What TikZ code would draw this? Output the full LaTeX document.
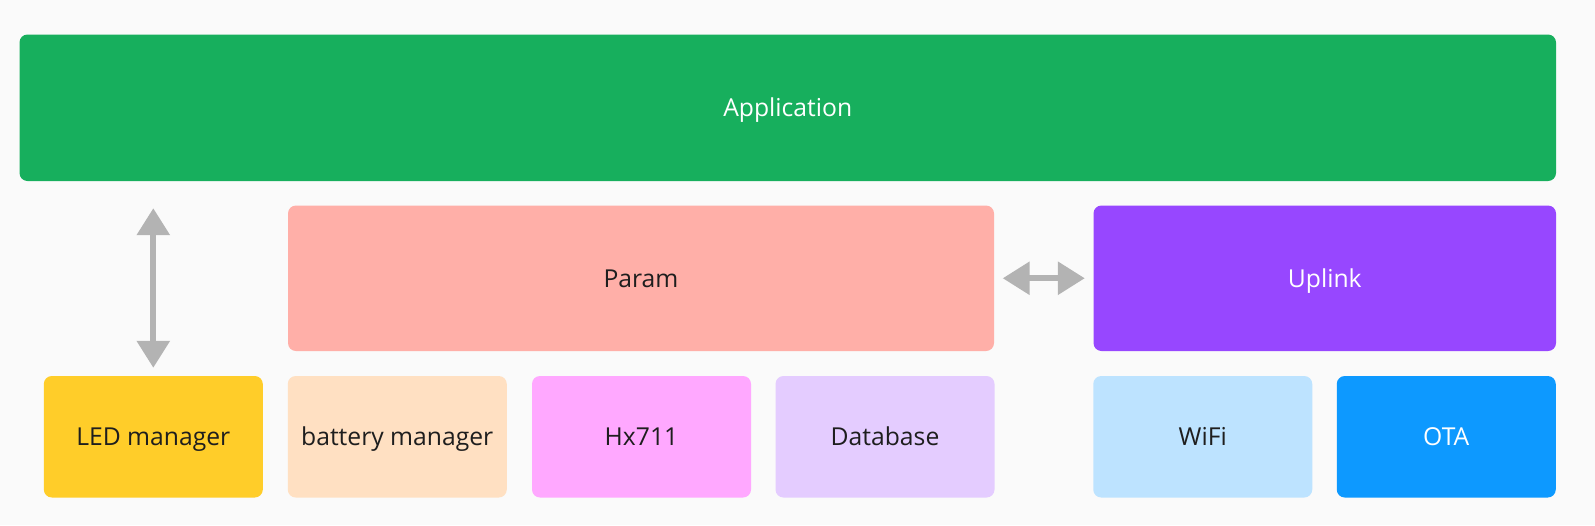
\documentclass[tikz,border=0pt]{standalone}
\usepackage{fontspec}
\setmainfont{Open Sans}
\usetikzlibrary{arrows.meta}
\definecolor{bgcol}{HTML}{FAFAFA}
\definecolor{appcol}{HTML}{17AF5D}
\definecolor{paramcol}{HTML}{FFAFA8}
\definecolor{uplinkcol}{HTML}{9747FF}
\definecolor{ledcol}{HTML}{FFCD29}
\definecolor{battcol}{HTML}{FFE0C2}
\definecolor{hxcol}{HTML}{FFA8FF}
\definecolor{dbcol}{HTML}{E4CCFF}
\definecolor{wificol}{HTML}{BDE3FF}
\definecolor{otacol}{HTML}{0D99FF}
\definecolor{txtcol}{HTML}{1E1E1E}
\definecolor{arrowcol}{HTML}{B3B3B3}
\tikzset{
  block/.style={rounded corners=8pt, minimum height=121.5pt, minimum width=219pt,
    inner sep=0pt, text height=17.5pt, text depth=0pt, text=txtcol,
    font=\fontsize{24.7}{29}\selectfont},
  conn/.style={draw=arrowcol, line width=6pt, {Triangle[length=27pt,width=32pt]}-{Triangle[length=27pt,width=32pt]}}
}
\begin{document}
\begin{tikzpicture}[x=1pt, y=-1pt]
    \fill[bgcol] (0,0) rectangle (1595,525);
    \useasboundingbox (0,0) rectangle (1595,525);
    % top layer
    \node[block, fill=appcol, text=white, minimum width=1536.5pt, minimum height=146.5pt] (app) at (787.75,107.75) {Application};
    % middle layer
    \node[block, fill=paramcol, minimum width=706pt, minimum height=145.5pt] (param) at (641,278.25) {Param};
    \node[block, fill=uplinkcol, text=white, minimum width=462.5pt, minimum height=145.5pt] (uplink) at (1324.75,278.25) {Uplink};
    % bottom layer
    \node[block, fill=ledcol] (led) at (153.3,436.75) {LED manager};
    \node[block, fill=battcol] (batt) at (397.25,436.75) {battery manager};
    \node[block, fill=hxcol] (hx) at (641.5,436.75) {Hx711};
    \node[block, fill=dbcol] (db) at (885,436.75) {Database};
    \node[block, fill=wificol] (wifi) at (1202.75,436.75) {WiFi};
    \node[block, fill=otacol, text=white] (ota) at (1446.25,436.75) {OTA};
    % arrows
    \draw[conn, shorten <=8pt, shorten >=27pt] (led.north) -- (led.north |- app.south);
    \draw[conn, shorten <=8.5pt, shorten >=8.5pt] (param.east) -- (uplink.west);
\end{tikzpicture}
\end{document}
